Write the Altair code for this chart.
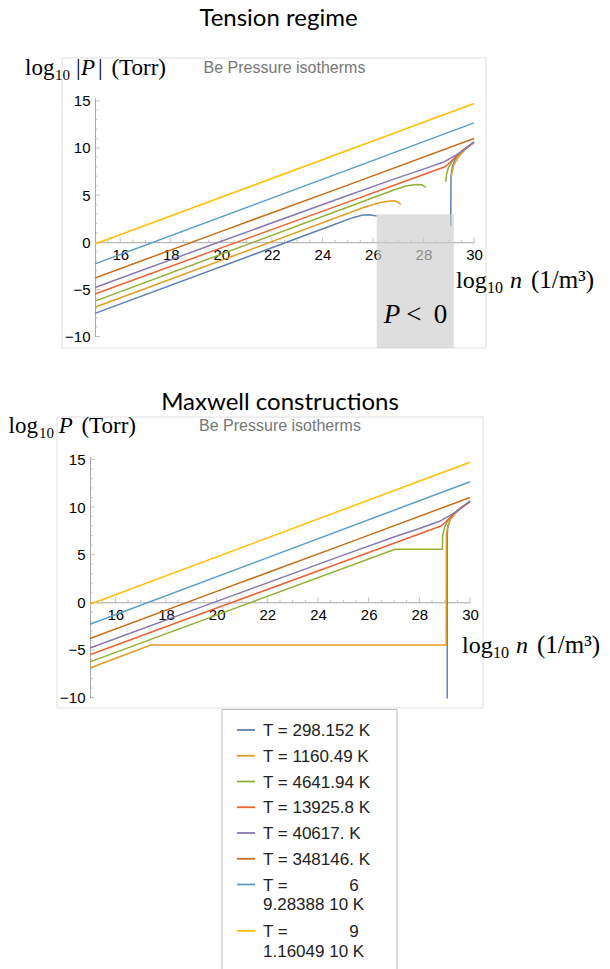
import altair as alt
import pandas as pd

NBSP = "\u00a0"

# ---- isotherm names and colours -------------------------------------------
SERIES = ["T = 298.152 K", "T = 1160.49 K", "T = 4641.94 K", "T = 13925.8 K",
          "T = 40617. K", "T = 348146. K", "T = 9.28388e6 K", "T = 1.16049e9 K"]
LEGEND_TEXT = SERIES[:6] + [
    "T =" + NBSP * 13 + "6\n9.28388 10 K",
    "T =" + NBSP * 13 + "9\n1.16049 10 K",
]
COLORS = ["#5E81B5", "#E19C24", "#8FB032", "#EB6235",
          "#8778B3", "#C56E1A", "#5D9EC7", "#FFBF00"]

# ---- log10 n (1/m^3) / log10 P (Torr) along each isotherm -----------------
# hotter isotherms: identical in both panels
n_13925 = [15, 20, 25, 27, 28.85, 29.05, 29.25, 29.6, 30]
p_13925 = [-5.5, -0.6, 4.25, 6.2, 8.0, 8.45, 9.0, 9.85, 10.55]
n_40617 = [15, 20, 25, 27, 28, 28.8, 29.3, 29.7, 30]
p_40617 = [-4.8, 0.1, 4.95, 6.85, 7.75, 8.5, 9.25, 9.95, 10.65]
n_348146 = [15, 20, 25, 30]
p_348146 = [-3.8, 1.15, 6.05, 11.0]
n_928e6 = [15, 30]
p_928e6 = [-2.3, 12.65]
n_116e9 = [15, 30]
p_116e9 = [-0.2, 14.7]

# tension regime: |P| on the gas side and on the dense side of the P < 0 gap
t298_gas_n = [15, 24.5, 25.2, 25.6, 25.85, 26.15]
t298_gas_p = [-7.55, 1.9, 2.6, 2.88, 2.92, 2.77]
t298_dense_n = [29.08, 29.09, 29.15, 29.3, 29.55, 29.8, 30]
t298_dense_p = [1.75, 7.0, 8.1, 9.0, 9.75, 10.25, 10.6]
t1160_gas_n = [15, 25.6, 26.2, 26.6, 26.85, 27.0, 27.1]
t1160_gas_p = [-6.9, 3.65, 4.15, 4.35, 4.4, 4.25, 4.0]
t1160_dense_n = [29.1, 29.12, 29.2, 29.4, 29.7, 30]
t1160_dense_p = [6.9, 7.3, 8.2, 9.1, 9.95, 10.6]
t4642_gas_n = [15, 26.8, 27.3, 27.7, 27.95, 28.1]
t4642_gas_p = [-6.25, 5.5, 5.95, 6.12, 6.08, 5.8]
t4642_dense_n = [28.88, 28.92, 29.0, 29.2, 29.5, 29.8, 30]
t4642_dense_p = [6.4, 7.3, 8.0, 8.8, 9.6, 10.2, 10.6]

# Maxwell constructions: flat coexistence pressure joining the branches
m298_n = [29.1, 29.1, 29.12, 29.2, 29.4, 29.7, 30]
m298_p = [-10.1, 7.0, 7.8, 8.6, 9.3, 10.0, 10.6]
m1160_n = [15, 17.4, 29.06, 29.07, 29.12, 29.25, 29.5, 29.8, 30]
m1160_p = [-6.9, -4.48, -4.48, 7.0, 8.0, 8.8, 9.6, 10.2, 10.6]
m4642_n = [15, 27.04, 28.91, 28.92, 29.0, 29.15, 29.4, 29.7, 30]
m4642_p = [-6.25, 5.57, 5.57, 7.0, 7.9, 8.7, 9.4, 10.05, 10.6]

# region where the pressure is negative (tension)
NEG_N = [26.15, 29.2]
NEG_P_TOP = 2.95

# axis ticks
X_MAJOR = [16, 18, 20, 22, 24, 26, 28, 30]
X_MINOR = [v / 2 for v in range(31, 60) if v % 4 != 0]
Y_MAJOR = [-10, -5, 0, 5, 10, 15]
Y_MINOR = [v for v in range(-9, 15) if v % 5 != 0]

X_DOMAIN = [15, 30]
Y_DOMAIN = [-10, 15.3]
W = 610
AXIS_GRAY = "#a8a8a8"
SANS = "Liberation Sans"
SERIF = "Liberation Serif"
TITLE_FONT = "Lato"

color_scale = alt.Scale(domain=SERIES, range=COLORS)


def to_frame(pieces):
    rows = []
    for k, (series, part, ns, ps) in enumerate(pieces):
        for i, (n, p) in enumerate(zip(ns, ps)):
            rows.append({"series": series, "seg": f"{k}-{part}", "i": i, "n": n, "p": p})
    return pd.DataFrame(rows)


HOT = [
    (SERIES[3], "all", n_13925, p_13925),
    (SERIES[4], "all", n_40617, p_40617),
    (SERIES[5], "all", n_348146, p_348146),
    (SERIES[6], "all", n_928e6, p_928e6),
    (SERIES[7], "all", n_116e9, p_116e9),
]
tension_df = to_frame([
    (SERIES[0], "gas", t298_gas_n, t298_gas_p),
    (SERIES[0], "dense", t298_dense_n, t298_dense_p),
    (SERIES[1], "gas", t1160_gas_n, t1160_gas_p),
    (SERIES[1], "dense", t1160_dense_n, t1160_dense_p),
    (SERIES[2], "gas", t4642_gas_n, t4642_gas_p),
    (SERIES[2], "dense", t4642_dense_n, t4642_dense_p),
] + HOT)
maxwell_df = to_frame([
    (SERIES[0], "all", m298_n, m298_p),
    (SERIES[1], "all", m1160_n, m1160_p),
    (SERIES[2], "all", m4642_n, m4642_p),
] + HOT)


def text(t, x, y, dy=0, **style):
    style.setdefault("baseline", "alphabetic")
    style.setdefault("color", "black")
    return alt.Chart(alt.Data(values=[{"t": t}])).mark_text(dy=dy, **style).encode(
        text="t:N", x=alt.value(x), y=alt.value(y))


def math_label(pieces, y):
    """Serif label assembled from pieces: (text, x, align, size, italic, baseline shift)."""
    out = []
    for t, x, align, size, italic, shift in pieces:
        style = dict(font=SERIF, fontSize=size, align=align)
        if italic:
            style["fontStyle"] = "italic"
        out.append(text(t, x, y, dy=shift, **style))
    return out


def outline(x, x2, y, y2, color):
    return alt.Chart(alt.Data(values=[{}])).mark_rect(
        fillOpacity=0, stroke=color, strokeWidth=1).encode(
        x=alt.value(x), x2=alt.value(x2), y=alt.value(y), y2=alt.value(y2))


def panel(df, x_range, y_range, height, frame, texts, extra=()):
    y0 = y_range[0] + (0 - Y_DOMAIN[0]) * (y_range[1] - y_range[0]) / (Y_DOMAIN[1] - Y_DOMAIN[0])
    xs = alt.Scale(domain=X_DOMAIN, range=x_range, nice=False, zero=False)
    ys = alt.Scale(domain=Y_DOMAIN, range=y_range, nice=False, zero=False)
    xa = alt.Axis(orient="bottom", offset=y0 - height, values=X_MAJOR, format="d",
                  ticks=False, tickSize=0, grid=False, domainColor=AXIS_GRAY,
                  labelFont=SANS, labelFontSize=15, labelColor="black",
                  labelPadding=5, labelFlush=False, labelOverlap=False, labelAngle=0, title="")
    ya = alt.Axis(orient="left", offset=-x_range[0], values=Y_MAJOR, format="d",
                  ticks=False, tickSize=0, grid=False, domainColor=AXIS_GRAY,
                  labelFont=SANS, labelFontSize=15, labelColor="black",
                  labelPadding=5, labelFlush=False, labelOverlap=False, title="")

    def xticks(values, size):
        return alt.Chart(pd.DataFrame({"v": values})).mark_tick(
            orient="vertical", size=size, thickness=1, yOffset=-size / 2, color=AXIS_GRAY
        ).encode(x=alt.X("v:Q", scale=xs, axis=xa), y=alt.YDatum(0, scale=ys, axis=ya))

    def yticks(values, size):
        return alt.Chart(pd.DataFrame({"v": values})).mark_tick(
            orient="horizontal", size=size, thickness=1, xOffset=size / 2, color=AXIS_GRAY
        ).encode(x=alt.XDatum(X_DOMAIN[0], scale=xs, axis=xa), y=alt.Y("v:Q", scale=ys, axis=ya))

    lines = alt.Chart(df).mark_line(strokeWidth=1.5).encode(
        x=alt.X("n:Q", scale=xs, axis=xa),
        y=alt.Y("p:Q", scale=ys, axis=ya),
        color=alt.Color("series:N", scale=color_scale, legend=None),
        detail="seg:N",
        order="i:Q",
    )
    layers = [outline(*frame, "#dedede"),
              xticks(X_MAJOR, 5), xticks(X_MINOR, 2.5),
              yticks(Y_MAJOR, 5), yticks(Y_MINOR, 2.5),
              lines]
    layers += [f(xs, ys, xa, ya) for f in extra]
    layers += texts
    return alt.layer(*layers).properties(width=W, height=height)


def tension_shade(xs, ys, xa, ya):
    return alt.Chart(pd.DataFrame({"n0": [NEG_N[0]], "n1": [NEG_N[1]], "p0": [NEG_P_TOP]})).mark_rect(
        color="#cdcdcd", opacity=0.66).encode(
        x=alt.X("n0:Q", scale=xs, axis=xa), x2="n1:Q",
        y=alt.Y("p0:Q", scale=ys, axis=ya), y2=alt.value(348))


def tension_label_p(xs, ys, xa, ya):
    return alt.Chart(pd.DataFrame({"n": [26.75], "p": [-8.57], "t": ["P"]})).mark_text(
        font=SERIF, fontSize=27, fontStyle="italic", align="center", baseline="alphabetic",
        color="black").encode(x=alt.X("n:Q", scale=xs, axis=xa),
                              y=alt.Y("p:Q", scale=ys, axis=ya), text="t:N")


def tension_label_rest(xs, ys, xa, ya):
    return alt.Chart(pd.DataFrame({"n": [27.62, 28.67], "p": [-8.57, -8.57], "t": ["<", "0"]})).mark_text(
        font=SERIF, fontSize=27, align="center", baseline="alphabetic",
        color="black").encode(x=alt.X("n:Q", scale=xs, axis=xa),
                              y=alt.Y("p:Q", scale=ys, axis=ya), text="t:N")


def density_label(x0, y):
    return math_label([
        ("log", x0, "left", 24, False, 0),
        ("10", x0 + 31, "left", 16, False, 5),
        ("n", x0 + 54, "left", 24, True, 0),
        ("(1/m\u00b3)", x0 + 75, "left", 25, False, 0),
    ], y)


top = panel(
    tension_df, [95, 474], [336.5, 97.9], 372, (62, 486, 58, 348),
    [
        text("Tension regime", 278.5, 25.5, font=TITLE_FONT, fontSize=24, align="center"),
        text("Be Pressure isotherms", 284.5, 73, font=SANS, fontSize=16, align="center", color="#777777"),
    ]
    + math_label([
        ("log", 25, "left", 23, False, 0),
        ("10", 55, "left", 15, False, 5),
        ("|", 76, "left", 23, False, 0),
        ("P", 81, "left", 23, True, 0),
        ("|", 98, "left", 23, False, 0),
        ("(Torr)", 166, "right", 23, False, 0),
    ], 75)
    + density_label(456, 288),
    extra=(tension_shade, tension_label_p, tension_label_rest),
)

bottom = panel(
    maxwell_df, [90, 470], [325.6, 84.5], 337, (57, 483, 45, 336),
    [
        text("Maxwell constructions", 280, 38, font=TITLE_FONT, fontSize=24, align="center"),
        text("Be Pressure isotherms", 280, 59, font=SANS, fontSize=16, align="center", color="#777777"),
    ]
    + math_label([
        ("log", 8.6, "left", 23, False, 0),
        ("10", 39, "left", 15, False, 5),
        ("P", 58.7, "left", 23, True, 0),
        ("(Torr)", 136, "right", 23, False, 0),
    ], 60.5)
    + density_label(462, 280.7),
)

# ---- legend: swatch + label per isotherm, two-line labels take extra room --
slots, acc = [], 0.0
for lab in LEGEND_TEXT:
    slots.append(acc)
    acc += 1 + 0.8 * lab.count("\n")
legend_df = pd.DataFrame({"series": SERIES, "label": LEGEND_TEXT, "slot": slots})
slot_scale = alt.Scale(domain=[0, 1], range=[21, 46.75], nice=False, zero=False)

swatches = alt.Chart(legend_df).mark_rule(strokeWidth=1.8).encode(
    x=alt.value(237), x2=alt.value(255),
    y=alt.Y("slot:Q", scale=slot_scale, axis=None),
    color=alt.Color("series:N", scale=color_scale, legend=None),
)
labels = alt.Chart(legend_df).mark_text(
    align="left", baseline="alphabetic", dy=6, lineBreak="\n", lineHeight=19.7,
    font=SANS, fontSize=17, color="#222222").encode(
    x=alt.value(263), y=alt.Y("slot:Q", scale=slot_scale, axis=None), text="label:N")
legend = alt.layer(outline(222, 397, 0.5, 264, "#bdbdbd"), swatches, labels).properties(width=W, height=260)

chart = alt.vconcat(top, bottom, legend, spacing=0, bounds="flush").properties(
    padding=0, background="white").configure_view(strokeWidth=0)

chart.save("out.html", embed_options={"renderer": "svg", "actions": False})
